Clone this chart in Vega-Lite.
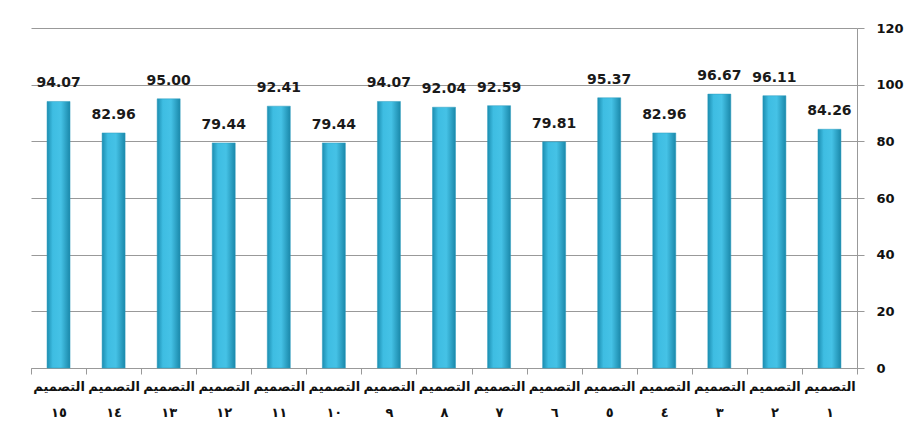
{
  "$schema": "https://vega.github.io/schema/vega-lite/v6.json",
  "autosize": "none",
  "width": 826,
  "height": 340,
  "padding": {"left": 31, "top": 28, "right": 53, "bottom": 70},
  "background": "white",
  "config": {"view": {"stroke": null}},
  "data": {
    "values": [
      {"design": "التصميم ١", "order": 1, "score": 84.26},
      {"design": "التصميم ٢", "order": 2, "score": 96.11},
      {"design": "التصميم ٣", "order": 3, "score": 96.67},
      {"design": "التصميم ٤", "order": 4, "score": 82.96},
      {"design": "التصميم ٥", "order": 5, "score": 95.37},
      {"design": "التصميم ٦", "order": 6, "score": 79.81},
      {"design": "التصميم ٧", "order": 7, "score": 92.59},
      {"design": "التصميم ٨", "order": 8, "score": 92.04},
      {"design": "التصميم ٩", "order": 9, "score": 94.07},
      {"design": "التصميم ١٠", "order": 10, "score": 79.44},
      {"design": "التصميم ١١", "order": 11, "score": 92.41},
      {"design": "التصميم ١٢", "order": 12, "score": 79.44},
      {"design": "التصميم ١٣", "order": 13, "score": 95.00},
      {"design": "التصميم ١٤", "order": 14, "score": 82.96},
      {"design": "التصميم ١٥", "order": 15, "score": 94.07}
    ]
  },
  "encoding": {
    "x": {
      "field": "design",
      "type": "nominal",
      "sort": {"field": "order", "order": "descending"},
      "scale": {"paddingInner": 0, "paddingOuter": 0},
      "axis": {
        "title": null,
        "labelAngle": 0,
        "labelExpr": "split(datum.label, ' ')",
        "labelFont": "DejaVu Sans",
        "labelFontWeight": "bold",
        "labelFontSize": 13,
        "labelColor": "#111",
        "labelLineHeight": 26,
        "labelPadding": 6,
        "tickBand": "extent",
        "tickColor": "#999",
        "tickSize": 6,
        "domainColor": "#999",
        "grid": false
      }
    },
    "y": {
      "field": "score",
      "type": "quantitative",
      "scale": {"domain": [0, 120]},
      "axis": {
        "orient": "right",
        "title": null,
        "values": [0, 20, 40, 60, 80, 100, 120],
        "labelFont": "DejaVu Sans",
        "labelFontWeight": "bold",
        "labelFontSize": 13,
        "labelColor": "#111",
        "labelPadding": 12,
        "tickColor": "#999",
        "tickSize": 7,
        "domainColor": "#999",
        "gridColor": "#999",
        "gridWidth": 1
      }
    }
  },
  "layer": [
    {
      "mark": {
        "type": "bar",
        "width": 23,
        "color": {
          "gradient": "linear",
          "x1": 0, "x2": 1, "y1": 0, "y2": 0,
          "stops": [
            {"offset": 0, "color": "#1c8db0"},
            {"offset": 0.25, "color": "#3ebde2"},
            {"offset": 0.6, "color": "#45c2e6"},
            {"offset": 1, "color": "#1a88aa"}
          ]
        },
        "stroke": "#2a9cbf",
        "strokeWidth": 0.5
      }
    },
    {
      "mark": {
        "type": "text",
        "baseline": "bottom",
        "dy": -11,
        "font": "DejaVu Sans",
        "fontWeight": "bold",
        "fontSize": 14,
        "color": "#1a1a1a"
      },
      "encoding": {
        "text": {"field": "score", "type": "quantitative", "format": ".2f"}
      }
    }
  ]
}
